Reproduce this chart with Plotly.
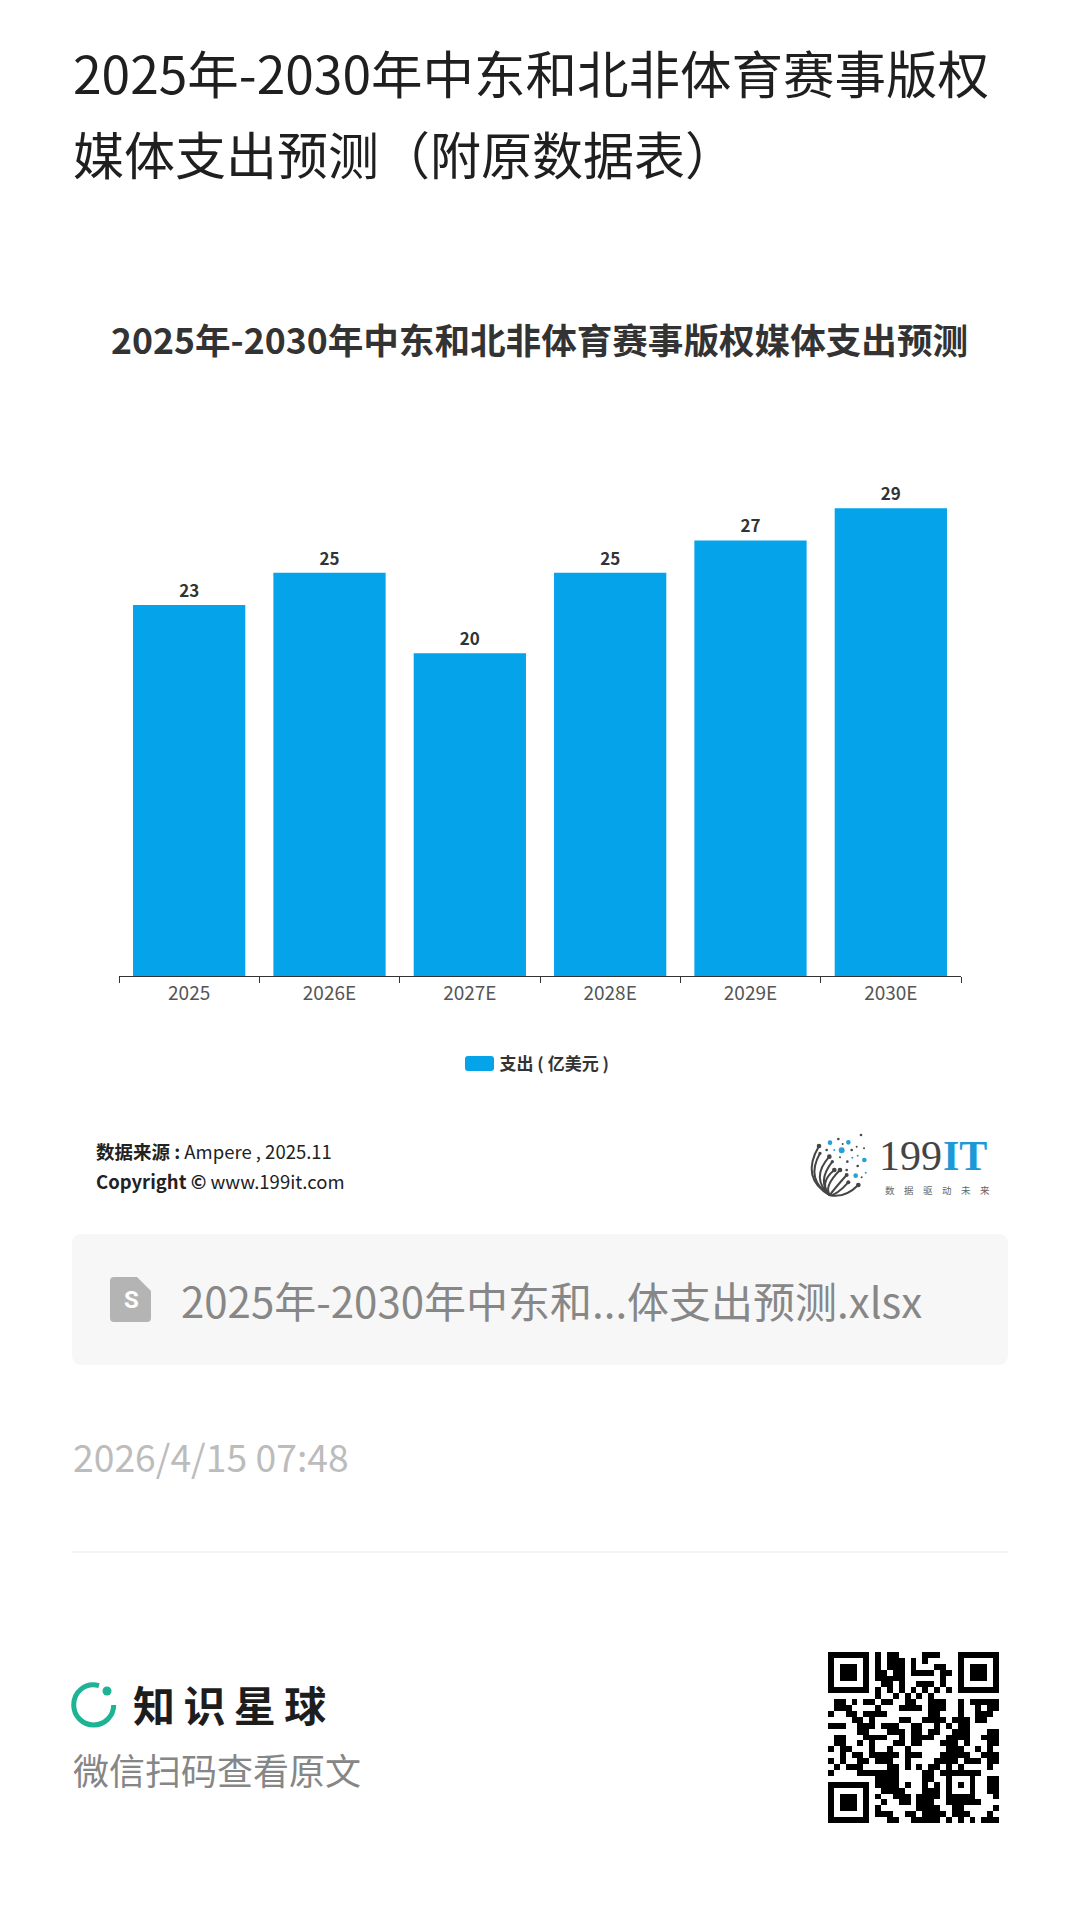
# 中东和北非体育赛事版权媒体支出预测 bar chart, with the page around it
import plotly.graph_objects as go

CJK = "Noto Sans CJK SC"
W, H = 1080, 1922

years = ["2025", "2026E", "2027E", "2028E", "2029E", "2030E"]
spend = [23, 25, 20, 25, 27, 29]
series_name = "支出 ( 亿美元 )"

page_title = ["2025年-2030年中东和北非体育赛事版权", "媒体支出预测（附原数据表）"]
chart_title = "2025年-2030年中东和北非体育赛事版权媒体支出预测"
file_name = "2025年-2030年中东和...体支出预测.xlsx"
post_time = "2026/4/15 07:48"

# QR modules, spaces are only there to help counting
qr_rows = [
    "1111111 0 1 0 11 0000 111 000 1111111",
    "1000001 0 1 0 111 0 1 0 1 00000 1000001",
    "1011101 0 1 0 111 0 1 000 11 00 1011101",
    "1011101 0 11 0 11 0 1111 0 1 1 0 1011101",
    "1011101 0 11111 000000 1 00 1011101",
    "1000001 0 0 11 0 1 00 111 0 1 00 1000001",
    "1111111 0 1 0 1 0 1 0 1 0 1 0 1 0 1 0 1111111",
    "0000000 0 10010101010000 0000000",
    "0 11 0 1 0 11 0 11 00 11 00 111 00 1 0 11111",
    "0 111 0000 1 000 1111 0 111 00 1 00 1 0 11",
    "1 00 11 0 1111 0000000 11 000 1 00 111 0",
    "0000 11 0 1 0000 11 00 1111 0 111 0 11 00",
    "111 00 111 0 111 00 11 00 1 0 1 0 11 00000",
    "00000 11 000 111 0 11 0 11 00 111 000 11",
    "0 11 000 1111 00 1 0 1111 00 1111 00 111",
    "0 11 00 1 0 1 000 11 0 11 000 111 0 1 000 11",
    "1 0 11 000 1 00 1 00 1 000000 111 00 1 0 1 0",
    "00 1 0 11 0 11111 0 111 000 11111 00 111",
    "1 0 1 00 11 0 111 00 1 0000 1111 0 111 0 11",
    "0 1 0 111 0000 11 0 1 0 1 0 11 0 1 0 1 0000 1 0",
    "1 0000 1111111 0000 11 0 1111111 000",
    "00000000 1111 0000 11 0 0 1 000 1 00 11",
    "1111111 0 1111 0 1 00 1 0 1 0 1 0 1 0 1 00 11",
    "1000001 0 0 1111 000 111 0 1 000 1 00 11",
    "1011101 0 1 00 111 0 1111 0 11111 000 1",
    "1011101 0 0 1 00 11 0 111 00 111111 000",
    "1011101 0 1 000000 1111 00 11 00000 1",
    "1000001 0 111 00 11 0 1111 0 111 000 1 0",
    "1111111 0 00 11 00 11111 0 1 0 1 0 1 0 111",
]
qr_z = [[int(c) for c in row.replace(" ", "")] for row in qr_rows]

# logo dots in the 3x crop of the logo: x, y, r
logo_blue = [(105, 68, 7), (160, 67, 7), (140, 91, 9), (208, 120, 7), (182, 167, 7),
             (118, 90, 3), (188, 107, 3), (172, 113, 3), (212, 158, 3)]
logo_dark = [(198, 45, 4), (130, 57, 4), (143, 72, 3), (185, 80, 3), (207, 85, 3), (95, 90, 4),
             (170, 90, 4), (157, 125, 4), (135, 112, 3), (188, 138, 4), (155, 150, 4), (200, 172, 3)]
logo_stems = [(72, 78, 7, 15, 175), (75, 100, 5, 30, 180), (103, 110, 7, 45, 175), (112, 125, 5, 65, 185),
              (118, 150, 7, 70, 190), (135, 150, 7, 85, 200), (155, 165, 6, 110, 215), (160, 187, 6, 125, 225),
              (190, 195, 7, 150, 235)]


def logo_x(v):
    return 795 + v / 3


def logo_y(v):
    return 1120 + v / 3


fig = go.Figure()

fig.add_trace(go.Bar(
    x=years, y=spend, name=series_name, width=0.8,
    marker=dict(color="#04a3ea", line=dict(width=0)),
    text=spend, textposition="outside", cliponaxis=False,
    textfont=dict(family=CJK, size=17, color="#333333"),
    texttemplate="<b>%{text}</b>",
    hoverinfo="x+y",
))

fig.add_trace(go.Heatmap(
    z=qr_z, xaxis="x2", yaxis="y2", showscale=False, hoverinfo="skip", xgap=0, ygap=0,
    colorscale=[[0, "#ffffff"], [1, "#000000"]], zmin=0, zmax=1,
))

shapes = []


def add_shape(**kw):
    shapes.append(dict(xref="x3", yref="y3", **kw))


# grey file card, divider
add_shape(type="path", fillcolor="#f7f7f7", line=dict(width=0),
          path="M82,1234 H998 Q1008,1234 1008,1244 V1355 Q1008,1365 998,1365 H82 Q72,1365 72,1355 V1244 Q72,1234 82,1234 Z")
add_shape(type="line", x0=72, x1=1008, y0=1552, y1=1552, line=dict(color="#f1f1f1", width=1.5))

# file icon
add_shape(type="path", fillcolor="#b4b4b4", line=dict(width=0),
          path="M114,1277 H137 L151,1291 V1318 Q151,1322 147,1322 H114 Q110,1322 110,1318 V1281 Q110,1277 114,1277 Z")

# legend swatch sits over the legend's own small marker
add_shape(type="path", fillcolor="#04a3ea", line=dict(width=0),
          path="M468,1056 H491 Q494,1056 494,1059 V1068 Q494,1071 491,1071 H468 Q465,1071 465,1068 V1059 Q465,1056 468,1056 Z")

# green ring logo
add_shape(type="path", line=dict(color="#1db394", width=5), fillcolor="rgba(0,0,0,0)",
          path="M99,1685.7 C85,1682 73.7,1692 73.7,1705 C73.7,1716 82.7,1725 93.7,1725 C104.7,1725 113.7,1716 113.7,1705")
add_shape(type="circle", x0=102.5, x1=111.5, y0=1686.5, y1=1695.5, fillcolor="#1db394", line=dict(width=0))

# 199IT logo
for sx, sy, r, cx, cy in logo_stems:
    x, y = logo_x(sx), logo_y(sy)
    bx, by = logo_x(105), logo_y(226)
    add_shape(type="path", fillcolor="rgba(0,0,0,0)", line=dict(color="#454545", width=2),
              path=f"M{x:.1f},{y:.1f} Q{logo_x(cx):.1f},{logo_y(cy):.1f} {bx:.1f},{by:.1f}")
    add_shape(type="circle", x0=x - r / 3, x1=x + r / 3, y0=y - r / 3, y1=y + r / 3,
              fillcolor="#454545", line=dict(width=0))
for dots, col in ((logo_blue, "#2b9fd8"), (logo_dark, "#4a4a4a")):
    for sx, sy, r in dots:
        x, y = logo_x(sx), logo_y(sy)
        add_shape(type="circle", x0=x - r / 3, x1=x + r / 3, y0=y - r / 3, y1=y + r / 3,
                  fillcolor=col, line=dict(width=0))

annotations = []


def add_text(x, y, text, size, color, anchor="left", family=CJK):
    annotations.append(dict(x=x, y=y, xref="x3", yref="y3", text=text, showarrow=False, xanchor=anchor,
                            yanchor="middle", font=dict(family=family, size=size, color=color)))


add_text(71, 71, page_title[0], 51.5, "#1f1f1f")
add_text(71, 153, page_title[1], 51, "#1f1f1f")
add_text(539, 338, f"<b>{chart_title}</b>", 35.6, "#333333", anchor="center")
add_text(94, 1151, "<b>数据来源 :</b> Ampere , 2025.11", 18.5, "#222222")
add_text(94, 1181, "<b>Copyright ©</b> www.199it.com", 18.5, "#222222")
add_text(877, 1156, "199", 42, "#444444", family="Liberation Serif")
add_text(941, 1156, "<b>IT</b>", 42, "#1c9ad6", family="Liberation Serif")
add_text(883, 1190, "\u2003".join("数据驱动未来"), 9.5, "#666666")
add_text(131, 1300, "<b>S</b>", 24, "#ffffff", anchor="center", family="Roboto")
add_text(179, 1299, file_name, 42, "#878787")
add_text(71, 1456, post_time, 37.3, "#bcbcbc")
add_text(131, 1703, "<b>知\u2009识\u2009星\u2009球</b>", 42, "#1d1d1d")
add_text(71, 1769, "微信扫码查看原文", 36, "#868686")

fig.update_layout(
    width=W, height=H, margin=dict(l=0, r=0, t=0, b=0),
    paper_bgcolor="white", plot_bgcolor="rgba(0,0,0,0)", bargap=0.2,
    font=dict(family=CJK),
    showlegend=True,
    legend=dict(x=459.5 / W, y=1 - 1064 / H, xanchor="left", yanchor="middle", orientation="h",
                itemwidth=30, bgcolor="rgba(0,0,0,0)",
                font=dict(family=CJK, size=17, color="#333333", weight=700),
                itemclick=False, itemdoubleclick=False),
    xaxis=dict(domain=[119 / W, 961 / W], anchor="y", type="category", tickson="boundaries", ticks="outside",
               ticklen=6, tickcolor="#333333", tickwidth=1, showline=True, linecolor="#333333", linewidth=1,
               showgrid=False, tickfont=dict(family=CJK, size=19, color="#555555")),
    yaxis=dict(domain=[1 - 976 / H, 1 - 492 / H], anchor="x", range=[0, 30], visible=False, showgrid=False),
    xaxis2=dict(domain=[828 / W, 999 / W], anchor="y2", range=[-0.5, 28.5], visible=False),
    yaxis2=dict(domain=[1 - 1823 / H, 1 - 1652 / H], anchor="x2", range=[28.5, -0.5], visible=False),
    xaxis3=dict(domain=[0, 1], anchor="y3", range=[0, W], visible=False),
    yaxis3=dict(domain=[0, 1], anchor="x3", range=[H, 0], visible=False),
    shapes=shapes, annotations=annotations,
)

fig.write_html("out.html", config=dict(displayModeBar=False), post_script="document.body.style.margin='0';")
